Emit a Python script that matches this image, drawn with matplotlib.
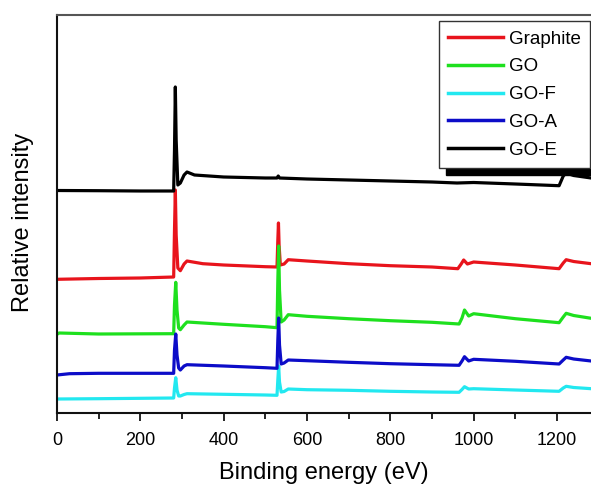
import matplotlib
matplotlib.use("Agg")
import matplotlib.pyplot as plt
from matplotlib.lines import Line2D

plt.rcParams['font.family'] = ['Liberation Sans', 'DejaVu Sans']

# Binding energy (eV) / relative intensity (arb. units) control points
graphite_x = [0, 100, 200, 280, 282, 284, 286, 290, 296, 305, 312, 350, 400, 500, 528, 530, 531.5, 533, 536, 545, 555, 600, 700, 800, 900, 962, 970, 976, 985, 1000, 1100, 1205, 1215, 1222, 1240, 1282]
graphite_y = [133.7, 134.5, 135, 136, 183, 223, 178, 145, 142.3, 149, 152, 149.3, 148, 146.3, 146, 173, 190, 168, 148, 149, 153.3, 152, 149.3, 147.3, 146, 144.3, 149, 153, 149, 151, 148, 144.3, 150, 153.3, 151.5, 149.3]

go_x = [0, 5, 100, 280, 282, 285, 288, 292, 296, 305, 312, 400, 500, 528, 530, 532, 534, 538, 545, 555, 600, 700, 800, 900, 965, 972, 978, 988, 1000, 1100, 1205, 1215, 1222, 1240, 1282]
go_y = [78.7, 80, 79, 79.3, 108, 130.7, 103, 85, 83.3, 88, 91, 88.7, 86.3, 85.3, 133, 167, 123, 91, 93, 98.3, 96.7, 94.3, 92.3, 90.7, 89, 95, 103, 97, 99.3, 94.3, 90.3, 96, 99.7, 97.5, 94.7]

gof_x = [0, 100, 280, 282, 285, 288, 292, 296, 305, 312, 400, 500, 528, 530, 532, 534, 538, 545, 555, 600, 700, 800, 900, 965, 972, 978, 988, 1000, 1100, 1205, 1215, 1222, 1240, 1282]
gof_y = [14, 14.3, 15, 25, 35.3, 23, 17, 17, 18.5, 19.3, 18.7, 18, 17.7, 33, 47, 31, 21, 21.5, 24, 23.3, 22.7, 21.7, 21, 20.7, 23.5, 26.3, 24, 24.3, 23, 21.7, 25, 26.7, 25.5, 24.3]

goa_x = [0, 30, 100, 280, 282, 285, 288, 292, 296, 305, 312, 400, 500, 528, 530, 532, 534, 538, 545, 555, 600, 700, 800, 900, 965, 972, 978, 988, 1000, 1100, 1205, 1215, 1222, 1240, 1282]
goa_y = [38, 39.3, 39.7, 39.7, 63, 79, 58, 45, 43, 47, 48.3, 47, 45.3, 44.7, 73, 95, 68, 49, 50, 53, 52.3, 50.7, 49.3, 48.3, 47.7, 52, 56.3, 52, 53.7, 51.7, 49, 53, 55.7, 54, 52]

goe_x = [0, 100, 200, 280, 282, 284, 286, 290, 296, 305, 312, 330, 400, 500, 528, 531, 534, 600, 700, 800, 900, 960, 1000, 1100, 1205, 1215, 1222, 1240, 1282]
goe_y = [222.5, 222.3, 222, 222, 263, 326, 273, 228, 230, 238, 241, 238, 236, 235, 235, 237, 235, 234, 233, 232, 231, 230, 230.5, 229, 227.3, 237, 240, 237.5, 235]

labels = ['Graphite', 'GO', 'GO-F', 'GO-A', 'GO-E']
colors = ['#e8141c', '#1ee01e', '#22e8f0', '#0c0cc8', '#000000']
xticks = [0, 200, 400, 600, 800, 1000, 1200]

W, H = 591, 486
fig = plt.figure(figsize=(W / 100, H / 100), dpi=100)
ax = fig.add_axes([57 / W, (H - 413) / H, (W - 57) / W, (413 - 15) / H])

series = {
    'Graphite': (graphite_x, graphite_y),
    'GO': (go_x, go_y),
    'GO-F': (gof_x, gof_y),
    'GO-A': (goa_x, goa_y),
    'GO-E': (goe_x, goe_y),
}
cmap = dict(zip(labels, colors))
for name in ['Graphite', 'GO', 'GO-F', 'GO-A', 'GO-E']:
    x, y = series[name]
    ax.plot(x, y, color=cmap[name], lw=2.3, solid_joinstyle='round')

ax.set_xlim(0, 1281.6)
ax.set_ylim(0, 398)
ax.set_xticks(xticks)
ax.set_xticks([100, 300, 500, 700, 900, 1100], minor=True)
ax.set_yticks([])
ax.tick_params(axis='x', which='major', direction='out', length=6, width=1.2, labelsize=13, pad=8)
ax.tick_params(axis='x', which='minor', direction='out', length=4, width=1.2)
ax.spines['right'].set_visible(False)
for s in ['left', 'bottom']:
    ax.spines[s].set_linewidth(1.5)
    ax.spines[s].set_color('#111111')
ax.spines['top'].set_linewidth(1.5)
ax.spines['top'].set_color('#555555')

ax.set_xlabel('Binding energy (eV)', fontsize=17, labelpad=9)
ax.set_ylabel('Relative intensity', fontsize=17)
ax.yaxis.set_label_coords(-(57 - 34) / (W - 57), (413 - 222) / 398)

handles = [Line2D([], [], color=cmap[n], lw=2.5) for n in labels]
leg = fig.legend(handles, labels, loc='upper left',
                 bbox_to_anchor=(439 / W, 1 - 21 / H), bbox_transform=fig.transFigure,
                 fontsize=13.5, frameon=True, fancybox=False, framealpha=1,
                 edgecolor='#333333', borderpad=0.5, labelspacing=0.57,
                 handlelength=2.9, handletextpad=0.33, borderaxespad=0,
                 shadow={'ox': 5, 'oy': -5, 'facecolor': 'black', 'edgecolor': 'black', 'alpha': 1})
leg.get_frame().set_linewidth(1.0)

fig.savefig('out.png', dpi=100)
